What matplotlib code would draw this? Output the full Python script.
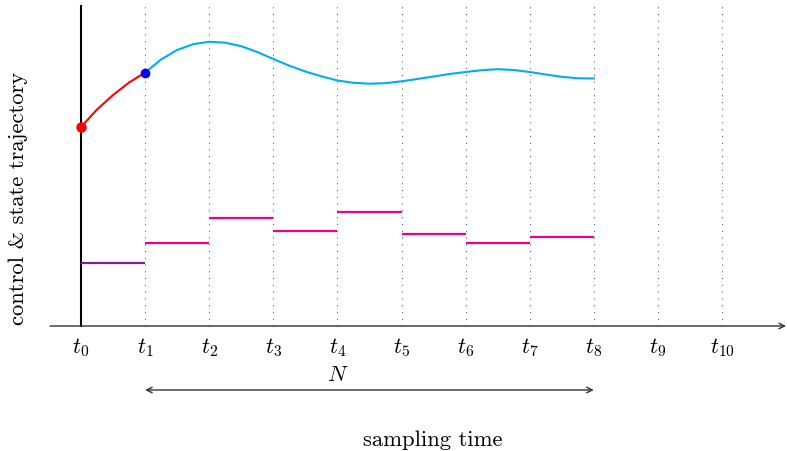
"""
MPC-style sketch: measured state (red), predicted state (cyan) over the
horizon N, and piecewise-constant control moves on a sampling-time grid.
"""
import matplotlib
matplotlib.use("Agg")
import matplotlib.pyplot as plt

plt.rcParams["mathtext.fontset"] = "cm"

# sampling instants t0..t10
TICKS = list(range(11))
TICK_LABELS = [r"$t_{%d}$" % i for i in TICKS]

# past state trajectory (t0 -> t1)
past_t = [0.0, 0.25, 0.5, 0.75, 1.0]
past_x = [1.99, 2.165, 2.31, 2.435, 2.535]

# predicted state trajectory (t1 -> t8)
pred_t = [1.0, 1.25, 1.5, 1.75, 2.0, 2.25, 2.5, 2.75, 3.0, 3.25, 3.5, 3.75,
          4.0, 4.25, 4.5, 4.75, 5.0, 5.25, 5.5, 5.75, 6.0, 6.25, 6.5, 6.75,
          7.0, 7.25, 7.5, 7.75, 8.0]
pred_x = [2.535, 2.665, 2.76, 2.818, 2.842, 2.833, 2.798, 2.74, 2.67, 2.603,
          2.545, 2.497, 2.455, 2.432, 2.423, 2.428, 2.447, 2.47, 2.495, 2.52,
          2.54, 2.558, 2.568, 2.56, 2.54, 2.515, 2.492, 2.477, 2.475]

# control moves: applied one (t0 -> t1) and planned ones (t1 -> t8)
u_applied = 0.63
u_planned = [0.83, 1.08, 0.953, 1.143, 0.923, 0.827, 0.89]

PX_STEP = 64.1   # pixels per sampling interval
X0_PX = 81       # pixel column of t0
AX_PX = 327      # pixel row of the time axis
FS = 16

fig = plt.figure(figsize=(7.87, 4.52), dpi=100)
ax = fig.add_axes([0, 0, 1, 1])
ax.set_xlim(-X0_PX / PX_STEP, (787 - X0_PX) / PX_STEP)
ax.set_ylim((AX_PX - 452) / 100, AX_PX / 100)
ax.axis("off")

top = (AX_PX - 7) / 100

# dotted grid at t1..t10
for t in TICKS[1:]:
    ax.plot([t, t], [0, top], color="#555555", lw=0.75,
            linestyle=(0, (1, 5.5)), zorder=1)

# vertical axis at t0
ax.plot([0, 0], [0, top], color="black", lw=1.5, zorder=2)

# time axis
ax.annotate("", xy=((786 - X0_PX) / PX_STEP, 0),
            xytext=((50 - X0_PX) / PX_STEP, 0),
            arrowprops=dict(arrowstyle="->", color="#333333", lw=1.0,
                            shrinkA=0, shrinkB=0, mutation_scale=10))

# tick labels
for t, lab in zip(TICKS, TICK_LABELS):
    ax.text(t, -0.21, lab, ha="center", va="center", fontsize=FS)

# control moves
ax.hlines(u_applied, 0, 1, color="#8b1a8b", lw=1.6, zorder=3)
for k, u in enumerate(u_planned):
    ax.hlines(u, k + 1, k + 2, color="#ec008c", lw=1.6, zorder=3)

# state trajectories
ax.plot(past_t, past_x, color="#ff0000", lw=1.5, zorder=4,
        solid_joinstyle="round")
ax.plot(pred_t, pred_x, color="#00aeef", lw=1.5, zorder=4,
        solid_joinstyle="round")
ax.plot(past_t[0], past_x[0], "o", color="#ff0000", ms=6.5, zorder=5)
ax.plot(pred_t[0], pred_x[0], "o", color="#0000ff", ms=6, zorder=5)

# prediction horizon
ax.annotate("", xy=(8, -0.64), xytext=(1, -0.64),
            arrowprops=dict(arrowstyle="<->", color="#333333", lw=1.0,
                            shrinkA=0, shrinkB=0, mutation_scale=10))
ax.text(4, -0.48, r"$N$", ha="center", va="center", fontsize=FS)

ax.text((433 - X0_PX) / PX_STEP, -1.13, "sampling time",
        ha="center", va="center", fontsize=16.3, family="cmr10")
ax.text((18 - X0_PX) / PX_STEP, (AX_PX - 198) / 100,
        "control & state trajectory",
        ha="center", va="center", rotation=90, fontsize=16.3, family="cmr10")

fig.savefig("out.png", dpi=100)
